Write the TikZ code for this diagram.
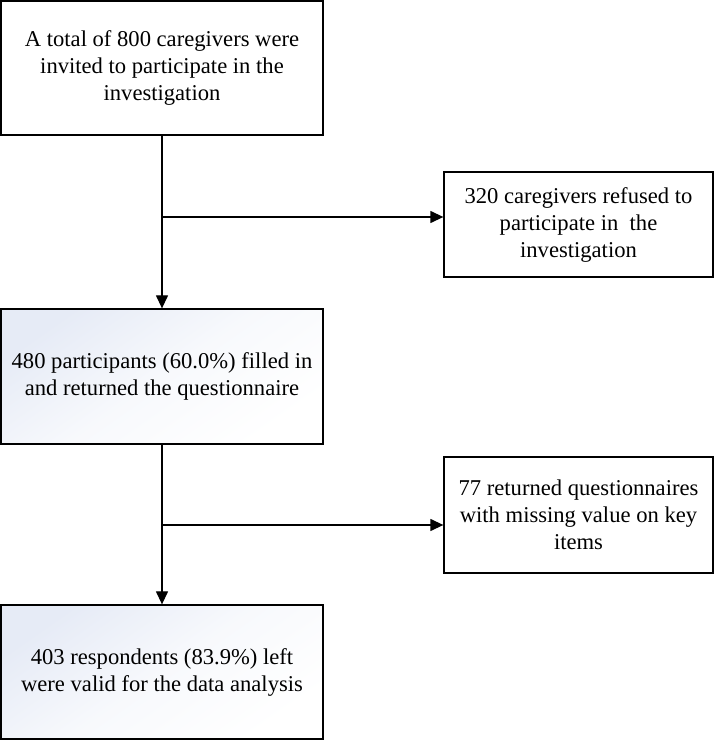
\documentclass[tikz,border=0pt]{standalone}
\usepackage{fontspec}
\setmainfont{Liberation Serif}
\usepackage{tikz}
\usetikzlibrary{arrows.meta, positioning}

\definecolor{shadeblue}{RGB}{230,235,246}
\tikzset{
  box/.style={draw, line width=1.3pt, align=center, font=\fontsize{22.6}{27}\selectfont, inner sep=0pt},
  shadebox/.style={box, top color=shadeblue, bottom color=white, middle color=white!70!shadeblue, shading angle=35},
  flow/.style={line width=1.3pt, -{Triangle[length=13pt,width=12pt]}}
}

\begin{document}
\begin{tikzpicture}[x=1pt,y=1pt]
\useasboundingbox (0,0) rectangle (714,740);
% main column
\node[box, minimum width=322pt, minimum height=134pt] (total) at (162,672) {A total of 800 caregivers were\\invited to participate in the\\investigation};
\node[shadebox, minimum width=322pt, minimum height=135pt] (filled) at (162,363.5) {480 participants (60.0\%) filled in\\and returned the questionnaire};
\node[shadebox, minimum width=322pt, minimum height=134pt] (valid) at (162,68) {403 respondents (83.9\%) left\\were valid for the data analysis};
% exclusions
\node[box, minimum width=269pt, minimum height=105pt] (refused) at (578.5,515.5) {320 caregivers refused to\\participate in\ \ the\\investigation};
\node[box, minimum width=269pt, minimum height=116pt] (missing) at (578.5,225) {77 returned questionnaires\\with missing value on key\\items};
% connectors
\coordinate (j1) at (162,523);
\coordinate (j2) at (162,215);
\draw[flow] (total) -- (filled);
\draw[flow] (filled) -- (valid);
\draw[flow] (j1) -- (j1 -| refused.west);
\draw[flow] (j2) -- (j2 -| missing.west);
\end{tikzpicture}
\end{document}
